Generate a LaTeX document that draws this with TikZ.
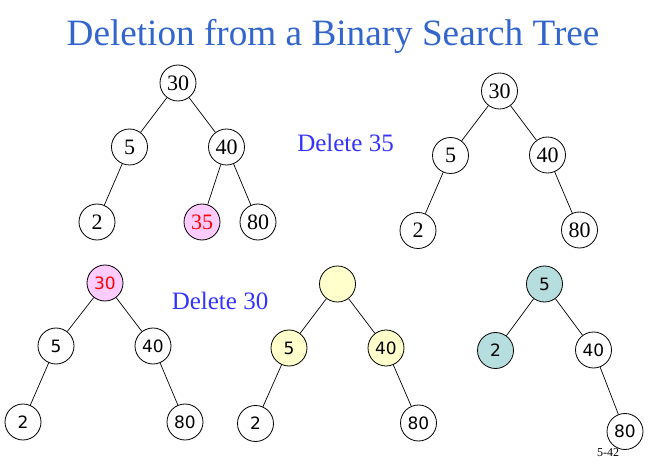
\documentclass[tikz,border=0pt]{standalone}
\usepackage{fontspec}
\setmainfont{Liberation Serif}
\newfontfamily\comicfont{DejaVu Sans}
\definecolor{titleblue}{RGB}{51,102,204}
\definecolor{labelblue}{RGB}{51,51,255}
\definecolor{pinkfill}{RGB}{255,204,255}
\definecolor{yellowfill}{RGB}{255,255,204}
\definecolor{tealfill}{RGB}{183,222,222}

\begin{document}
\begin{tikzpicture}[x=1pt,y=-1pt,
    main_node/.style={circle,draw,minimum size=36pt,inner sep=0,line width=0.8pt,font=\fontsize{22}{22}\selectfont},
    sans_node/.style={main_node,font=\comicfont\fontsize{17}{17}\selectfont},
    edge_line/.style={line width=0.7pt}]
    \useasboundingbox (0,0) rectangle (649,468);
    \node[anchor=base, text=titleblue, font=\fontsize{37.2}{37.2}\selectfont] (title) at (333,46) {Deletion from a Binary Search Tree};
    \node[anchor=base, text=labelblue, font=\fontsize{25}{25}\selectfont] (del35) at (345.5,152) {Delete 35};
    \node[anchor=base, text=labelblue, font=\fontsize{25}{25}\selectfont] (del30) at (220,309) {Delete 30};
    % before deleting 35
    \node[main_node] (1) at (178,83) {30};
    \node[main_node] (2) at (129.5,147) {5};
    \node[main_node] (3) at (226.5,147) {40};
    \node[main_node] (4) at (97,222) {2};
    \node[main_node, fill=pinkfill, text=red] (5) at (202,222) {35};
    \node[main_node] (6) at (258,222) {80};
    \draw[edge_line] (4) -- (2) -- (1) -- (3) -- (5) (3) -- (6);
    % after deleting 35
    \node[main_node] (7) at (499.5,91) {30};
    \node[main_node] (8) at (450.5,155.5) {5};
    \node[main_node] (9) at (547.5,155) {40};
    \node[main_node] (10) at (418,230.5) {2};
    \node[main_node] (11) at (579.5,230) {80};
    \draw[edge_line] (10) -- (8) -- (7) -- (9) -- (11);
    % deleting 30
    \node[sans_node, fill=pinkfill, text=red] (12) at (105,283) {30};
    \node[sans_node] (13) at (56,346) {5};
    \node[sans_node] (14) at (153,346) {40};
    \node[sans_node] (15) at (23,422) {2};
    \node[sans_node] (16) at (185,422) {80};
    \draw[edge_line] (15) -- (13) -- (12) -- (14) -- (16);
    \node[sans_node, fill=yellowfill] (17) at (337.5,284) {};
    \node[sans_node, fill=yellowfill] (18) at (289,348) {5};
    \node[sans_node, fill=yellowfill] (19) at (386,348) {40};
    \node[sans_node] (20) at (255.5,423.5) {2};
    \node[sans_node] (21) at (418.5,423) {80};
    \draw[edge_line] (20) -- (18) -- (17) -- (19) -- (21);
    \node[sans_node, fill=tealfill] (22) at (544.5,284) {5};
    \node[sans_node, fill=tealfill] (23) at (495.5,350.5) {2};
    \node[sans_node] (24) at (593.5,350) {40};
    \node[sans_node] (25) at (625,431.5) {80};
    \draw[edge_line] (23) -- (22) -- (24) -- (25);
    \node[anchor=base, font=\fontsize{12}{12}\selectfont] (page) at (608,456) {5-42};
\end{tikzpicture}
\end{document}
